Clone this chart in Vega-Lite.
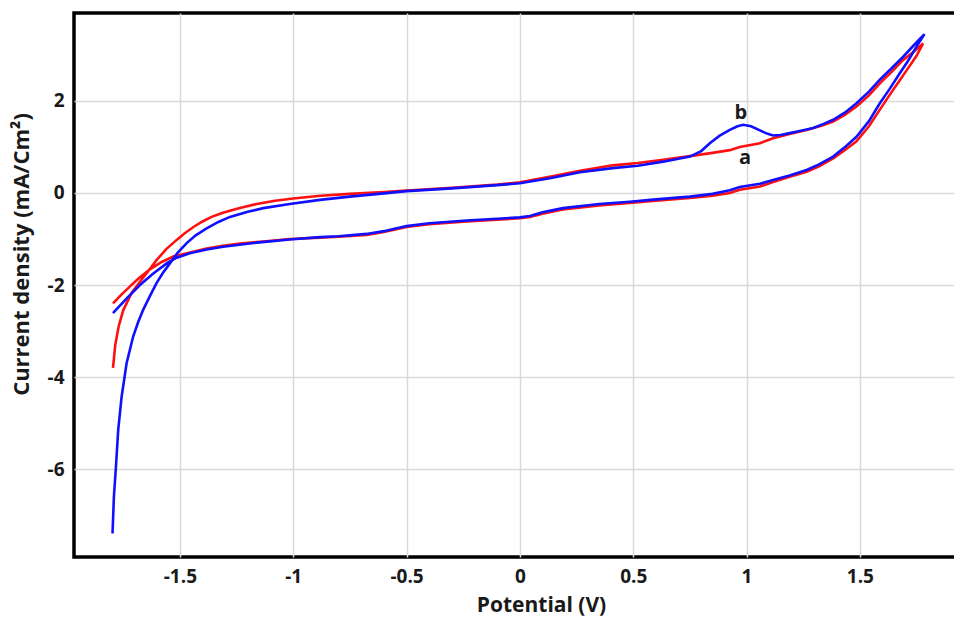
{
  "$schema": "https://vega.github.io/schema/vega-lite/v6.json",
  "autosize": "none",
  "padding": {"left": 74, "top": 13, "right": 0, "bottom": 60},
  "width": 882,
  "height": 544,
  "background": "white",
  "config": {
    "view": {"stroke": "black", "strokeWidth": 3.5},
    "font": "Open Sans"
  },
  "datasets": {
    "cv": [
      {"s":"a","i":1,"x":-1.795,"y":-3.80},{"s":"a","i":2,"x":-1.785,"y":-3.30},{"s":"a","i":3,"x":-1.77,"y":-2.90},{"s":"a","i":4,"x":-1.75,"y":-2.55},{"s":"a","i":5,"x":-1.713,"y":-2.17},{"s":"a","i":6,"x":-1.676,"y":-1.93},{"s":"a","i":7,"x":-1.64,"y":-1.70},{"s":"a","i":8,"x":-1.603,"y":-1.46},{"s":"a","i":9,"x":-1.56,"y":-1.22},{"s":"a","i":10,"x":-1.514,"y":-1.02},{"s":"a","i":11,"x":-1.48,"y":-0.88},{"s":"a","i":12,"x":-1.44,"y":-0.74},{"s":"a","i":13,"x":-1.40,"y":-0.62},{"s":"a","i":14,"x":-1.36,"y":-0.52},{"s":"a","i":15,"x":-1.31,"y":-0.43},{"s":"a","i":16,"x":-1.24,"y":-0.33},{"s":"a","i":17,"x":-1.161,"y":-0.24},{"s":"a","i":18,"x":-1.08,"y":-0.17},{"s":"a","i":19,"x":-1.0,"y":-0.12},{"s":"a","i":20,"x":-0.88,"y":-0.06},{"s":"a","i":21,"x":-0.75,"y":-0.02},{"s":"a","i":22,"x":-0.6,"y":0.02},{"s":"a","i":23,"x":-0.5,"y":0.05},{"s":"a","i":24,"x":-0.3,"y":0.11},{"s":"a","i":25,"x":-0.1,"y":0.18},{"s":"a","i":26,"x":0,"y":0.23},{"s":"a","i":27,"x":0.132,"y":0.35},{"s":"a","i":28,"x":0.265,"y":0.48},{"s":"a","i":29,"x":0.41,"y":0.60},{"s":"a","i":30,"x":0.52,"y":0.65},{"s":"a","i":31,"x":0.632,"y":0.72},{"s":"a","i":32,"x":0.75,"y":0.80},{"s":"a","i":33,"x":0.85,"y":0.87},{"s":"a","i":34,"x":0.926,"y":0.93},{"s":"a","i":35,"x":0.97,"y":1.0},{"s":"a","i":36,"x":1.059,"y":1.08},{"s":"a","i":37,"x":1.117,"y":1.19},{"s":"a","i":38,"x":1.19,"y":1.28},{"s":"a","i":39,"x":1.265,"y":1.37},{"s":"a","i":40,"x":1.33,"y":1.46},{"s":"a","i":41,"x":1.382,"y":1.55},{"s":"a","i":42,"x":1.435,"y":1.70},{"s":"a","i":43,"x":1.485,"y":1.88},{"s":"a","i":44,"x":1.54,"y":2.12},{"s":"a","i":45,"x":1.588,"y":2.38},{"s":"a","i":46,"x":1.64,"y":2.63},{"s":"a","i":47,"x":1.691,"y":2.89},{"s":"a","i":48,"x":1.74,"y":3.08},{"s":"a","i":49,"x":1.779,"y":3.25},
      {"s":"a","i":50,"x":1.75,"y":2.98},{"s":"a","i":51,"x":1.70,"y":2.62},{"s":"a","i":52,"x":1.676,"y":2.45},{"s":"a","i":53,"x":1.63,"y":2.12},{"s":"a","i":54,"x":1.588,"y":1.81},{"s":"a","i":55,"x":1.54,"y":1.45},{"s":"a","i":56,"x":1.485,"y":1.12},{"s":"a","i":57,"x":1.43,"y":0.92},{"s":"a","i":58,"x":1.382,"y":0.75},{"s":"a","i":59,"x":1.32,"y":0.58},{"s":"a","i":60,"x":1.265,"y":0.46},{"s":"a","i":61,"x":1.19,"y":0.35},{"s":"a","i":62,"x":1.117,"y":0.24},{"s":"a","i":63,"x":1.059,"y":0.14},{"s":"a","i":64,"x":0.97,"y":0.07},{"s":"a","i":65,"x":0.926,"y":0.0},{"s":"a","i":66,"x":0.85,"y":-0.06},{"s":"a","i":67,"x":0.75,"y":-0.11},{"s":"a","i":68,"x":0.6,"y":-0.17},{"s":"a","i":69,"x":0.485,"y":-0.22},{"s":"a","i":70,"x":0.35,"y":-0.27},{"s":"a","i":71,"x":0.19,"y":-0.36},{"s":"a","i":72,"x":0.1,"y":-0.45},{"s":"a","i":73,"x":0.044,"y":-0.52},{"s":"a","i":74,"x":0,"y":-0.55},{"s":"a","i":75,"x":-0.1,"y":-0.58},{"s":"a","i":76,"x":-0.235,"y":-0.62},{"s":"a","i":77,"x":-0.4,"y":-0.68},{"s":"a","i":78,"x":-0.5,"y":-0.74},{"s":"a","i":79,"x":-0.6,"y":-0.85},{"s":"a","i":80,"x":-0.676,"y":-0.91},{"s":"a","i":81,"x":-0.8,"y":-0.95},{"s":"a","i":82,"x":-0.882,"y":-0.97},{"s":"a","i":83,"x":-1.015,"y":-1.0},{"s":"a","i":84,"x":-1.12,"y":-1.05},{"s":"a","i":85,"x":-1.235,"y":-1.10},{"s":"a","i":86,"x":-1.309,"y":-1.15},{"s":"a","i":87,"x":-1.382,"y":-1.21},{"s":"a","i":88,"x":-1.45,"y":-1.29},{"s":"a","i":89,"x":-1.529,"y":-1.38},{"s":"a","i":90,"x":-1.58,"y":-1.50},{"s":"a","i":91,"x":-1.632,"y":-1.66},{"s":"a","i":92,"x":-1.68,"y":-1.85},{"s":"a","i":93,"x":-1.72,"y":-2.03},{"s":"a","i":94,"x":-1.76,"y":-2.22},{"s":"a","i":95,"x":-1.795,"y":-2.40},
      {"s":"b","i":1,"x":-1.797,"y":-7.40},{"s":"b","i":2,"x":-1.791,"y":-6.60},{"s":"b","i":3,"x":-1.782,"y":-5.95},{"s":"b","i":4,"x":-1.772,"y":-5.15},{"s":"b","i":5,"x":-1.757,"y":-4.43},{"s":"b","i":6,"x":-1.735,"y":-3.70},{"s":"b","i":7,"x":-1.706,"y":-3.12},{"s":"b","i":8,"x":-1.685,"y":-2.82},{"s":"b","i":9,"x":-1.662,"y":-2.54},{"s":"b","i":10,"x":-1.63,"y":-2.22},{"s":"b","i":11,"x":-1.603,"y":-1.96},{"s":"b","i":12,"x":-1.575,"y":-1.74},{"s":"b","i":13,"x":-1.544,"y":-1.53},{"s":"b","i":14,"x":-1.51,"y":-1.30},{"s":"b","i":15,"x":-1.47,"y":-1.09},{"s":"b","i":16,"x":-1.43,"y":-0.92},{"s":"b","i":17,"x":-1.382,"y":-0.77},{"s":"b","i":18,"x":-1.33,"y":-0.63},{"s":"b","i":19,"x":-1.279,"y":-0.52},{"s":"b","i":20,"x":-1.2,"y":-0.41},{"s":"b","i":21,"x":-1.132,"y":-0.33},{"s":"b","i":22,"x":-1.015,"y":-0.24},{"s":"b","i":23,"x":-0.882,"y":-0.15},{"s":"b","i":24,"x":-0.75,"y":-0.08},{"s":"b","i":25,"x":-0.6,"y":-0.01},{"s":"b","i":26,"x":-0.5,"y":0.04},{"s":"b","i":27,"x":-0.3,"y":0.10},{"s":"b","i":28,"x":-0.1,"y":0.17},{"s":"b","i":29,"x":0,"y":0.21},{"s":"b","i":30,"x":0.132,"y":0.32},{"s":"b","i":31,"x":0.265,"y":0.45},{"s":"b","i":32,"x":0.41,"y":0.54},{"s":"b","i":33,"x":0.52,"y":0.59},{"s":"b","i":34,"x":0.632,"y":0.68},{"s":"b","i":35,"x":0.75,"y":0.79},{"s":"b","i":36,"x":0.80,"y":0.91},{"s":"b","i":37,"x":0.838,"y":1.08},{"s":"b","i":38,"x":0.88,"y":1.24},{"s":"b","i":39,"x":0.926,"y":1.37},{"s":"b","i":40,"x":0.96,"y":1.45},{"s":"b","i":41,"x":0.985,"y":1.48},{"s":"b","i":42,"x":1.02,"y":1.45},{"s":"b","i":43,"x":1.059,"y":1.36},{"s":"b","i":44,"x":1.09,"y":1.29},{"s":"b","i":45,"x":1.117,"y":1.25},{"s":"b","i":46,"x":1.15,"y":1.26},{"s":"b","i":47,"x":1.19,"y":1.30},{"s":"b","i":48,"x":1.24,"y":1.35},{"s":"b","i":49,"x":1.294,"y":1.41},{"s":"b","i":50,"x":1.34,"y":1.50},{"s":"b","i":51,"x":1.382,"y":1.59},{"s":"b","i":52,"x":1.435,"y":1.75},{"s":"b","i":53,"x":1.485,"y":1.95},{"s":"b","i":54,"x":1.54,"y":2.20},{"s":"b","i":55,"x":1.588,"y":2.46},{"s":"b","i":56,"x":1.64,"y":2.71},{"s":"b","i":57,"x":1.691,"y":2.96},{"s":"b","i":58,"x":1.74,"y":3.22},{"s":"b","i":59,"x":1.785,"y":3.45},
      {"s":"b","i":60,"x":1.75,"y":3.18},{"s":"b","i":61,"x":1.71,"y":2.85},{"s":"b","i":62,"x":1.676,"y":2.60},{"s":"b","i":63,"x":1.63,"y":2.25},{"s":"b","i":64,"x":1.588,"y":1.95},{"s":"b","i":65,"x":1.54,"y":1.56},{"s":"b","i":66,"x":1.485,"y":1.22},{"s":"b","i":67,"x":1.43,"y":0.98},{"s":"b","i":68,"x":1.382,"y":0.79},{"s":"b","i":69,"x":1.32,"y":0.62},{"s":"b","i":70,"x":1.265,"y":0.50},{"s":"b","i":71,"x":1.19,"y":0.38},{"s":"b","i":72,"x":1.117,"y":0.28},{"s":"b","i":73,"x":1.059,"y":0.20},{"s":"b","i":74,"x":0.97,"y":0.13},{"s":"b","i":75,"x":0.926,"y":0.06},{"s":"b","i":76,"x":0.85,"y":-0.02},{"s":"b","i":77,"x":0.75,"y":-0.08},{"s":"b","i":78,"x":0.6,"y":-0.14},{"s":"b","i":79,"x":0.485,"y":-0.19},{"s":"b","i":80,"x":0.35,"y":-0.24},{"s":"b","i":81,"x":0.19,"y":-0.33},{"s":"b","i":82,"x":0.1,"y":-0.42},{"s":"b","i":83,"x":0.044,"y":-0.50},{"s":"b","i":84,"x":0,"y":-0.53},{"s":"b","i":85,"x":-0.1,"y":-0.56},{"s":"b","i":86,"x":-0.235,"y":-0.60},{"s":"b","i":87,"x":-0.4,"y":-0.66},{"s":"b","i":88,"x":-0.5,"y":-0.72},{"s":"b","i":89,"x":-0.6,"y":-0.83},{"s":"b","i":90,"x":-0.676,"y":-0.89},{"s":"b","i":91,"x":-0.8,"y":-0.94},{"s":"b","i":92,"x":-0.882,"y":-0.96},{"s":"b","i":93,"x":-1.015,"y":-1.01},{"s":"b","i":94,"x":-1.161,"y":-1.08},{"s":"b","i":95,"x":-1.309,"y":-1.17},{"s":"b","i":96,"x":-1.382,"y":-1.23},{"s":"b","i":97,"x":-1.456,"y":-1.31},{"s":"b","i":98,"x":-1.52,"y":-1.42},{"s":"b","i":99,"x":-1.558,"y":-1.53},{"s":"b","i":100,"x":-1.62,"y":-1.76},{"s":"b","i":101,"x":-1.676,"y":-2.00},{"s":"b","i":102,"x":-1.73,"y":-2.27},{"s":"b","i":103,"x":-1.78,"y":-2.53},{"s":"b","i":104,"x":-1.795,"y":-2.61}
    ],
    "labels": [
      {"t":"b","x":0.975,"y":1.74},
      {"t":"a","x":0.993,"y":0.76}
    ]
  },
  "layer": [
    {
      "data": {"name": "cv"},
      "mark": {"type": "line", "strokeWidth": 2.6, "clip": true},
      "encoding": {
        "x": {
          "field": "x", "type": "quantitative",
          "scale": {"domain": [-1.967, 1.924], "nice": false, "zero": false},
          "axis": {
            "title": "Potential (V)",
            "values": [-1.5, -1, -0.5, 0, 0.5, 1, 1.5],
            "labelExpr": "datum.value + ''",
            "grid": true, "gridColor": "#d9d9d9", "gridWidth": 1.5,
            "domain": false, "ticks": false,
            "labelFont": "Open Sans", "labelFontWeight": "bold", "labelFontSize": 19, "labelColor": "#1a1a1a",
            "labelPadding": 10,
            "titleFont": "Open Sans", "titleFontWeight": "bold", "titleFontSize": 21, "titleColor": "#1a1a1a",
            "titlePadding": 8,
            "titleX": 467
          }
        },
        "y": {
          "field": "y", "type": "quantitative",
          "scale": {"domain": [-7.91, 3.91], "nice": false, "zero": false},
          "axis": {
            "title": "Current density (mA/Cm²)",
            "values": [-6, -4, -2, 0, 2],
            "labelExpr": "datum.value + ''",
            "grid": true, "gridColor": "#d9d9d9", "gridWidth": 1.5,
            "domain": false, "ticks": false,
            "labelFont": "Open Sans", "labelFontWeight": "bold", "labelFontSize": 19, "labelColor": "#1a1a1a",
            "labelPadding": 10,
            "titleFont": "Open Sans", "titleFontWeight": "bold", "titleFontSize": 22, "titleColor": "#1a1a1a",
            "titlePadding": 14,
            "titleY": 241
          }
        },
        "color": {
          "field": "s", "type": "nominal",
          "scale": {"domain": ["a", "b"], "range": ["#ff1010", "#1010ff"]},
          "legend": null
        },
        "order": {"field": "i", "type": "quantitative"}
      }
    },
    {
      "data": {"name": "labels"},
      "mark": {"type": "text", "font": "Open Sans", "fontWeight": "bold", "fontSize": 20, "color": "#1a1a1a"},
      "encoding": {
        "x": {"field": "x", "type": "quantitative"},
        "y": {"field": "y", "type": "quantitative"},
        "text": {"field": "t"}
      }
    }
  ]
}
